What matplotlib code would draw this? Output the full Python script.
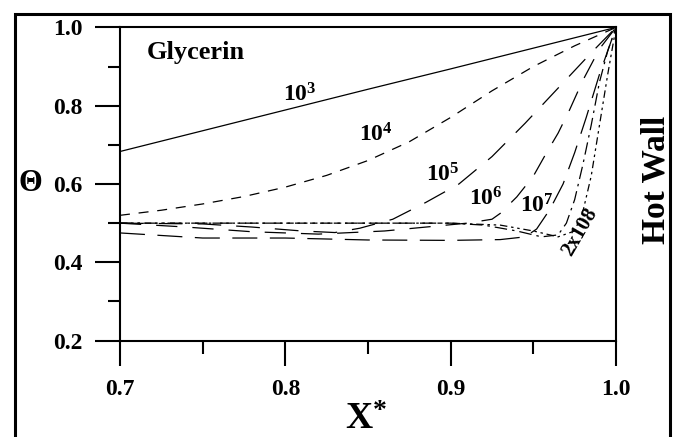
import numpy as np
from matplotlib import pyplot as plt
from matplotlib.patches import Rectangle

# dimensionless horizontal position near the hot wall and temperature at mid-height
x_ra3 = [0.70, 0.75, 0.80, 0.85, 0.90, 0.95, 1.00]
t_ra3 = [0.683, 0.736, 0.789, 0.842, 0.894, 0.947, 1.000]

x_ra4 = [0.70, 0.725, 0.75, 0.775, 0.80, 0.825, 0.85, 0.875, 0.90, 0.925, 0.95, 0.975, 1.00]
t_ra4 = [0.520, 0.533, 0.549, 0.568, 0.592, 0.622, 0.660, 0.708, 0.770, 0.838, 0.900, 0.953, 1.000]

x_ra5 = [0.70, 0.75, 0.78, 0.81, 0.83, 0.845, 0.865, 0.885, 0.905, 0.925, 0.945, 0.965, 0.985, 1.00]
t_ra5 = [0.500, 0.498, 0.490, 0.480, 0.476, 0.487, 0.510, 0.553, 0.600, 0.670, 0.755, 0.845, 0.935, 1.000]

x_ra6 = [0.70, 0.74, 0.78, 0.82, 0.86, 0.89, 0.91, 0.925, 0.93, 0.94, 0.95, 0.958, 0.965, 0.972, 0.98, 0.99, 1.00]
t_ra6 = [0.500, 0.490, 0.478, 0.472, 0.480, 0.492, 0.500, 0.510, 0.525, 0.567, 0.620, 0.680, 0.730, 0.790, 0.865, 0.945, 1.000]

x_ra7 = [0.70, 0.75, 0.80, 0.85, 0.90, 0.93, 0.945, 0.952, 0.96, 0.968, 0.975, 0.982, 0.99, 1.00]
t_ra7 = [0.475, 0.462, 0.462, 0.457, 0.456, 0.458, 0.465, 0.485, 0.535, 0.600, 0.680, 0.770, 0.880, 1.000]

x_ra8 = [0.70, 0.80, 0.90, 0.92, 0.94, 0.955, 0.965, 0.97, 0.975, 0.98, 0.985, 0.99, 0.995, 1.00]
t_ra8 = [0.500, 0.500, 0.500, 0.495, 0.480, 0.465, 0.470, 0.500, 0.560, 0.650, 0.750, 0.860, 0.940, 1.000]

x_ra2e8 = [0.70, 0.80, 0.90, 0.93, 0.95, 0.965, 0.975, 0.98, 0.985, 0.99, 0.995, 1.00]
t_ra2e8 = [0.500, 0.500, 0.500, 0.495, 0.480, 0.465, 0.480, 0.530, 0.620, 0.750, 0.880, 1.000]

x_ticks = [0.7, 0.8, 0.9, 1.0]
y_ticks = [0.2, 0.4, 0.6, 0.8, 1.0]

plt.rcParams['font.family'] = ['Liberation Serif', 'DejaVu Serif']
plt.rcParams['font.weight'] = 'bold'
plt.rcParams['mathtext.fontset'] = 'custom'
plt.rcParams['mathtext.rm'] = 'Liberation Serif:bold'
plt.rcParams['mathtext.bf'] = 'Liberation Serif:bold'
plt.rcParams['mathtext.it'] = 'Liberation Serif:bold'


def main() -> None:
    fig = plt.figure(figsize=(6.79, 4.37), dpi=100)
    ax = fig.add_axes([0.1767, 0.2206, 0.7305, 0.7167])

    ax.plot(x_ra3, t_ra3, color='black', lw=0.9)
    ax.plot(x_ra4, t_ra4, color='black', lw=0.9, dashes=(8, 7))
    ax.plot(x_ra5, t_ra5, color='black', lw=0.9, dashes=(19, 12))
    ax.plot(x_ra6, t_ra6, color='black', lw=0.9, dashes=(17, 12))
    ax.plot(x_ra7, t_ra7, color='black', lw=0.9, dashes=(20, 10))
    ax.plot(x_ra8, t_ra8, color='black', lw=0.9, dashes=(10, 4, 2, 4))
    ax.plot(x_ra2e8, t_ra2e8, color='black', lw=0.9, dashes=(6, 3, 2, 3, 2, 3))

    lab = dict(fontsize=17, ha='center', va='center')
    ax.text(0.809, 0.828, r'$10^3$', **lab)
    ax.text(0.855, 0.725, r'$10^4$', **lab)
    ax.text(0.895, 0.622, r'$10^5$', **lab)
    ax.text(0.921, 0.562, r'$10^6$', **lab)
    ax.text(0.952, 0.543, r'$10^7$', **lab)
    ax.text(0.978, 0.478, '2x108', fontsize=15, ha='center', va='center', rotation=60)

    ax.text(0.746, 0.935, 'Glycerin', fontsize=19, ha='center', va='center')

    ax.set_xlim(0.7, 1.0)
    ax.set_ylim(0.2, 1.0)
    ax.set_xticks(x_ticks)
    ax.set_xticklabels(['%.1f' % v for v in x_ticks])
    ax.set_xticks([0.75, 0.85, 0.95], minor=True)
    ax.set_yticks(y_ticks)
    ax.set_yticklabels(['%.1f' % v for v in y_ticks])
    ax.set_yticks([0.3, 0.5, 0.7, 0.9], minor=True)

    ax.tick_params(which='major', direction='out', length=18, width=1.5, labelsize=17)
    ax.tick_params(which='minor', direction='out', length=9, width=1.5)
    ax.tick_params(axis='x', which='major', pad=10)
    ax.tick_params(axis='y', which='major', pad=9)
    for s in ax.spines.values():
        s.set_linewidth(1.5)

    # axis titles
    fig.text(359 / 679, 1 / 437, 'X', fontsize=27, ha='center', va='bottom')
    fig.text(380 / 679, 1 - 412 / 437, '*', fontsize=20, ha='center', va='center')
    fig.text(30 / 679, 1 - 183.5 / 437, '\u0398', fontsize=22, ha='center', va='center')
    fig.text(656 / 679, 1 - 180 / 437, 'Hot Wall', fontsize=24, ha='center', va='center',
             rotation=90)

    # outer frame, open at the bottom
    frame = Rectangle((15 / 679, -0.05), 655 / 679, 1.05 - 14 / 437, transform=fig.transFigure,
                      fill=False, lw=2.2, edgecolor='black')
    fig.patches.append(frame)

    fig.savefig('out.png', dpi=100)


if __name__ == '__main__':
    main()
